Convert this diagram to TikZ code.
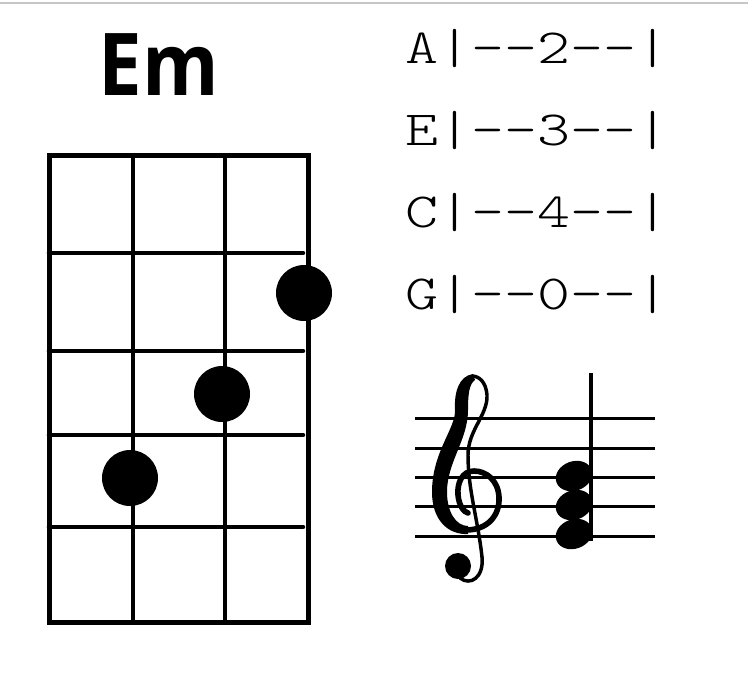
\documentclass[tikz,border=0pt]{standalone}
\usepackage{fontspec}
\usetikzlibrary{shapes.geometric}
\newfontfamily\titlefont[FakeStretch=0.9]{Open Sans}
\newfontfamily\tabfont[FakeStretch=1.28]{Latin Modern Mono Light}

\begin{document}
\begin{tikzpicture}[
        x=0.75pt, y=-0.75pt,
        frame/.style={line width=3.75pt},
        wire/.style={line width=3.2pt},
        fret/.style={line width=3.4pt, line cap=round},
        finger/.style={circle, fill, inner sep=0pt, minimum size=42pt},
        tabline/.style={font=\tabfont\fontsize{36.8}{40}\selectfont, anchor=base west, inner sep=0pt},
        staffline/.style={line width=2.25pt},
        notehead/.style={ellipse, fill, inner sep=0pt, minimum width=28pt, minimum height=22pt, rotate=20},
        clefthin/.style={line width=2.6pt, line cap=round},
        clefbody/.style={line width=4.2pt, line cap=round}
    ]
    \useasboundingbox (0,0) rectangle (748,686);

    %% ---- Top rule ----
    \draw[gray!45, line width=1.5pt] (0,3) -- (748,3);

    %% ---- Chord name ----
    \node[font=\titlefont\bfseries\fontsize{65}{70}\selectfont, anchor=base, inner sep=0pt] (title) at (159,95) {Em};

    %% ---- Fretboard ----
    \draw[frame] (49,155) rectangle (308,622);
    \foreach \x in {133,225}
        \draw[wire] (\x,155) -- (\x,622);
    \foreach \y in {253,351,435,527}
        \draw[fret] (49,\y) -- (303,\y);

    %% ---- Fingers ----
    \node[finger] (fingerA) at (304,293) {};
    \node[finger] (fingerE) at (222,394) {};
    \node[finger] (fingerC) at (130,478) {};

    %% ---- Tab ----
    \node[tabline] (tabA) at (405,63)  {A|––2––|};
    \node[tabline] (tabE) at (405,145) {E|––3––|};
    \node[tabline] (tabC) at (405,227) {C|––4––|};
    \node[tabline] (tabG) at (405,309) {G|––0––|};

    %% ---- Staff ----
    \foreach \y in {418,448,477,506,536}
        \draw[staffline] (415,\y) -- (655,\y);

    %% ---- Treble clef ----
    \draw[clefthin] (482,557) .. controls (478,520) and (468,490) .. (468,455)
        .. controls (468,430) and (488,415) .. (487,395)
        .. controls (486,382) and (479,376) .. (472,376);
    \draw[clefthin] (482,557) .. controls (484,578) and (470,586) .. (460,578);
    \fill (473,374) .. controls (459,376) and (454,392) .. (455,410)
        .. controls (456,428) and (432,452) .. (432,492)
        .. controls (432,520) and (448,535) .. (468,534)
        -- (468,526) .. controls (456,526) and (447,512) .. (447,492)
        .. controls (447,462) and (468,440) .. (468,410)
        .. controls (468,395) and (469,384) .. (475,380) -- cycle;
    \draw[clefbody] (466,530) .. controls (488,530) and (500,515) .. (499,497)
        .. controls (498,480) and (486,471) .. (474,471)
        .. controls (462,471) and (457,483) .. (458,495)
        .. controls (459,506) and (464,512) .. (468,513);
    \fill (458,566) circle [radius=9.75pt];

    %% ---- Chord notes ----
    \node[notehead] (note1) at (574,476) {};
    \node[notehead] (note2) at (574,505) {};
    \node[notehead] (note3) at (574,534) {};
    \coordinate (stemtop) at (591,373);
    \draw[line width=3pt, shorten >=-5pt] (stemtop) -- (stemtop |- note3.center);

\end{tikzpicture}
\end{document}
